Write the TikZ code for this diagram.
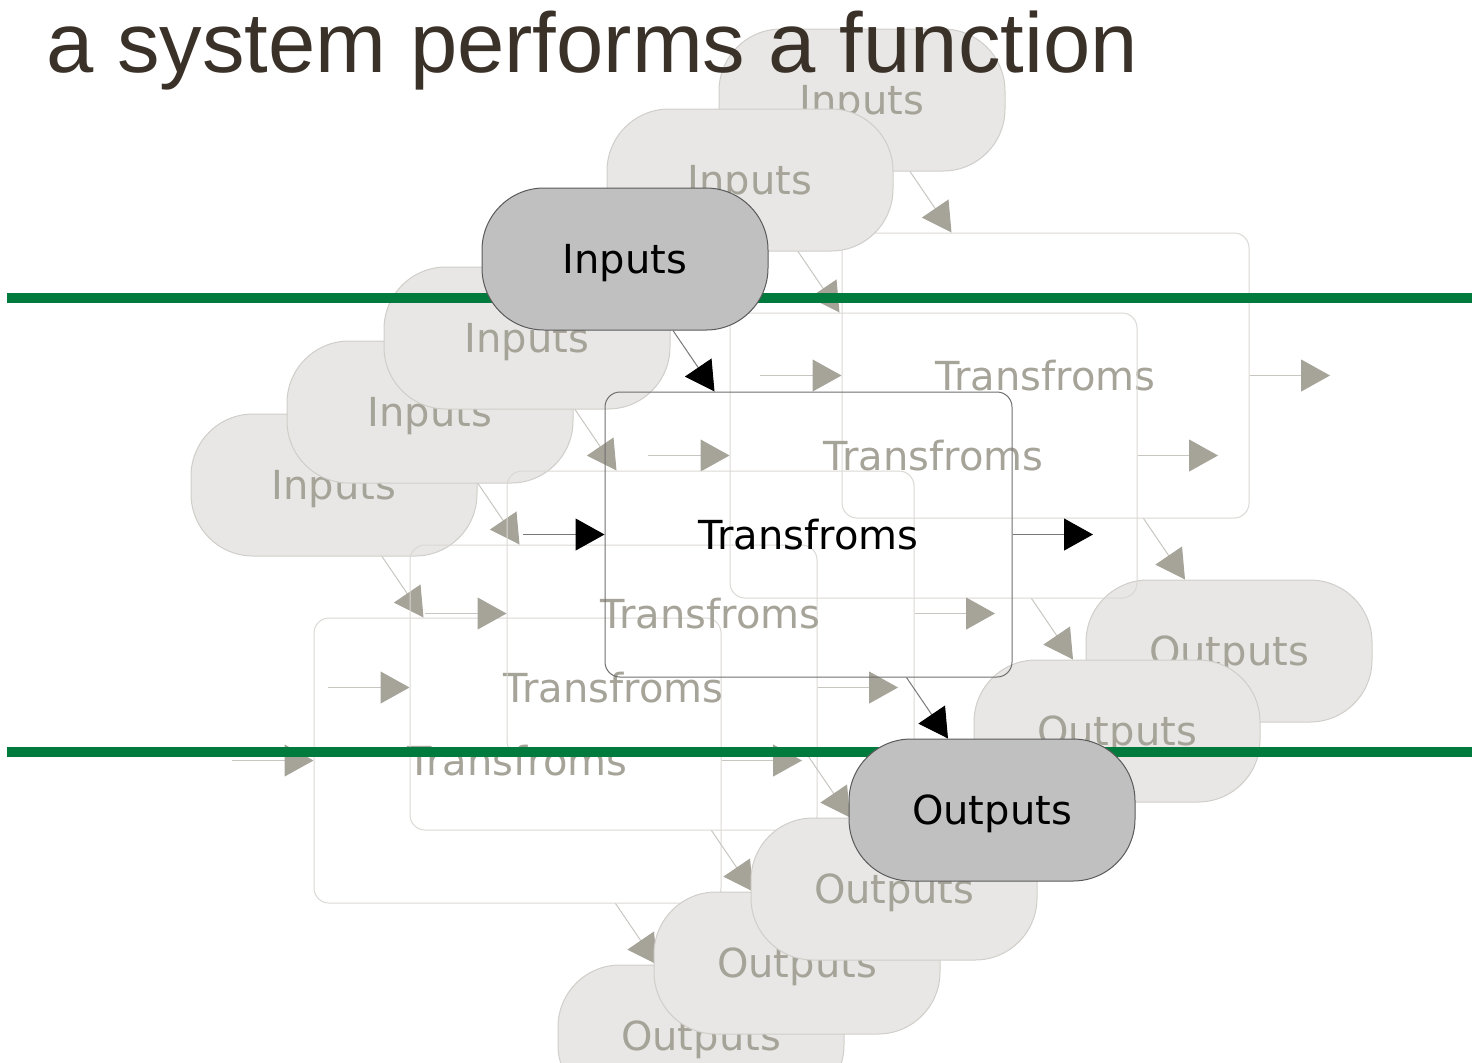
\documentclass[tikz,border=0pt]{standalone}
\usepackage{fontspec}
\newfontfamily\labelfont{DejaVu Sans}
\newfontfamily\titlefont{Liberation Sans}
\usetikzlibrary{arrows.meta}

\definecolor{titlebrown}{RGB}{58,49,41}
\definecolor{rulegreen}{RGB}{0,122,61}
\definecolor{mainfill}{RGB}{192,192,192}
\definecolor{mainline}{RGB}{90,90,90}
\definecolor{mainedge}{RGB}{110,110,110}
\definecolor{maintext}{RGB}{0,0,0}
\definecolor{mainwire}{RGB}{120,120,120}
\definecolor{mainhead}{RGB}{0,0,0}
\definecolor{fadedfill}{RGB}{232,231,229}
\definecolor{fadedline}{RGB}{208,206,201}
\definecolor{fadededge}{RGB}{218,216,212}
\definecolor{fadedtext}{RGB}{166,163,153}
\definecolor{fadedwire}{RGB}{200,198,193}
\definecolor{fadedhead}{RGB}{166,163,153}

% one copy of the system: name prefix, shift x, shift y, look
\newcommand{\sysflow}[4]{%
  \begin{scope}[shift={(#2,#3)}]
    \node[tfbox=#4] (#1tr) at (808.5,534.5) {Transfroms};
    \node[stadium=#4] (#1in) at (625,259) {Inputs};
    \node[stadium=#4] (#1out) at (992,810) {Outputs};
    \coordinate (#1src) at (523,534.5);
    \coordinate (#1snk) at (1093,534.5);
    \draw[flow=#4] ([xshift=24pt]#1in.south) -- ([xshift=55pt]#1tr.north west);
    \draw[flow=#4] (#1src) -- (#1tr.west);
    \draw[flow=#4] (#1tr.east) -- (#1snk);
    \draw[flow=#4] ([xshift=151pt]#1tr.south west) -- ([xshift=-22pt]#1out.north);
  \end{scope}}

\begin{document}
\begin{tikzpicture}[
    x=0.5pt, y=-0.5pt,
    stadium/.style={rectangle, draw=#1line, fill=#1fill, text=#1text, line width=0.5pt,
      rounded corners=31pt, minimum width=143pt, minimum height=71pt, text depth=0pt,
      font=\labelfont\fontsize{20}{24}\selectfont},
    tfbox/.style={rectangle, draw=#1edge, text=#1text, line width=0.5pt,
      rounded corners=7.5pt, minimum width=203.5pt, minimum height=142.5pt, text depth=0pt,
      font=\labelfont\fontsize{20}{24}\selectfont},
    flow/.style={draw=#1wire, line width=0.5pt, -{Triangle[length=14.5pt, width=16pt, color=#1head]}},
    rule/.style={draw=rulegreen, line width=5pt}
]
    \clip (0,0) rectangle (1472,1062);

    % faded copies, back to front
    \sysflow{b}{237}{-159}{faded}
    \sysflow{a}{125}{-79}{faded}
    \sysflow{e}{-291}{226}{faded}
    \sysflow{d}{-195}{153}{faded}
    \sysflow{c}{-98}{79}{faded}

    % boundary lines
    \coordinate (topl) at (7,298);
    \coordinate (topr) at (1472,298);
    \coordinate (botl) at (7,752);
    \coordinate (botr) at (1472,752);
    \draw[rule] (topl) -- (topr);
    \draw[rule] (botl) -- (botr);

    % the system itself
    \sysflow{m}{0}{0}{main}

    % title
    \node[anchor=base west, inner sep=0pt, text depth=0pt, text=titlebrown,
      font=\titlefont\fontsize{42.5}{50}\selectfont] (title) at (46,72) {a system performs a function};
\end{tikzpicture}
\end{document}
